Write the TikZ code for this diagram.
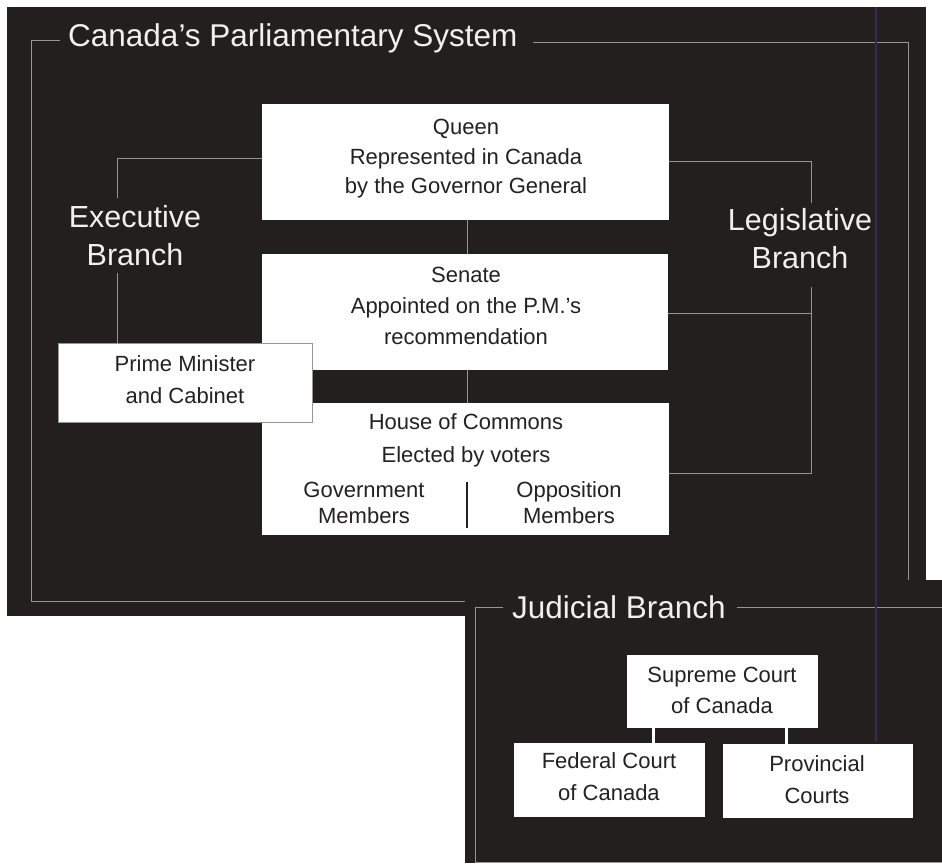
\documentclass[tikz,border=0pt]{standalone}
\usepackage{fontspec}
\setmainfont{Liberation Sans}
\definecolor{panel}{RGB}{34,31,30}
\definecolor{frameline}{RGB}{150,150,148}
\definecolor{lighttxt}{RGB}{240,240,240}
\definecolor{darktxt}{RGB}{35,33,33}
\definecolor{scanline}{RGB}{52,42,82}
\begin{document}
\begin{tikzpicture}[x=1pt,y=-1pt,
  frame/.style={draw=frameline, line width=0.9pt},
  conn/.style={draw=frameline, line width=0.9pt},
  wbox/.style={rectangle, fill=white, draw=none, inner sep=0pt},
  pmbox/.style={rectangle, fill=white, draw=frameline, line width=0.8pt, inner sep=0pt},
  boxtxt/.style={anchor=base, inner sep=0pt, text=darktxt, font=\fontsize{22}{26}\selectfont},
  bigtxt/.style={anchor=base, inner sep=0pt, text=lighttxt, font=\fontsize{30.5}{36}\selectfont},
  titletxt/.style={anchor=base west, inner sep=0pt, text=lighttxt, font=\fontsize{31.5}{36}\selectfont}
]
\useasboundingbox (0,0) rectangle (942,863);
\fill[white] (0,0) rectangle (942,863);

% main panel
\fill[panel] (7,7) rectangle (926,616);
\node[titletxt] (title) at (68,46) {Canada’s Parliamentary System};
\coordinate (fTL1) at (60,40);
\coordinate (fTL) at (31,40);
\coordinate (fBL) at (31,601);
\coordinate (fBR0) at (465,601);
\coordinate (fTR1) at (533,42);
\coordinate (fTR) at (908,42);
\coordinate (fBR) at (908,580);
\draw[frame] (fTL1) -- (fTL) -- (fBL) -- (fBR0);
\draw[frame] (fTR1) -- (fTR) -- (fBR);

% judicial panel
\fill[panel] (465,580) rectangle (942,863);
\node[titletxt] (jtitle) at (512,618) {Judicial Branch};
\coordinate (jL1) at (503,607);
\coordinate (jTL) at (475,607);
\coordinate (jBL) at (475,862);
\coordinate (jBR) at (942,862);
\coordinate (jR1) at (737,607);
\coordinate (jTR) at (942,607);
\draw[frame] (jL1) -- (jTL) -- (jBL) -- (jBR);
\draw[frame] (jR1) -- (jTR);

% scan line
\coordinate (sc1) at (876,7);
\coordinate (sc2) at (876,742);
\draw[scanline, line width=1.3pt] (sc1) -- (sc2);

% boxes (empty shapes)
\coordinate (cx) at (467,0);
\node[wbox, minimum width=407pt, minimum height=116pt] (queen) at (465.5,162) {};
\node[wbox, minimum width=406pt, minimum height=116pt] (senate) at (465,312) {};
\node[wbox, minimum width=407pt, minimum height=132pt] (house) at (465.5,469) {};

% center line
\draw[conn] (queen.south -| cx) -- (senate.north -| cx);
\draw[conn] (senate.south -| cx) -- (house.north -| cx);

% executive bracket
\coordinate (ey1) at (0,158);
\coordinate (exTop) at (117,198);
\coordinate (exBot) at (117,273);
\node[pmbox, minimum width=254pt, minimum height=79pt] (pm) at (185,382.5) {};
\draw[conn] (queen.west |- ey1) -| (exTop);
\draw[conn] (exBot) -- (pm.north -| exBot);

% legislative bracket
\coordinate (ly1) at (0,161);
\coordinate (ly2) at (0,313);
\coordinate (ly3) at (0,473);
\coordinate (lgTop) at (811,203);
\coordinate (lgBot) at (811,287);
\draw[conn] (queen.east |- ly1) -| (lgTop);
\draw[conn] (lgBot) |- (house.east |- ly3);
\draw[conn] (senate.east |- ly2) -- (lgBot |- ly2);

% branch labels
\node[bigtxt] (ex1) at (135,227) {Executive};
\node[bigtxt] (ex2) at (135,265) {Branch};
\node[bigtxt] (lg1) at (800,230) {Legislative};
\node[bigtxt] (lg2) at (800,268) {Branch};

% box texts
\node[boxtxt] (q1) at (466,134) {Queen};
\node[boxtxt] (q2) at (466,164) {Represented in Canada};
\node[boxtxt] (q3) at (466,193) {by the Governor General};

\node[boxtxt] (s1) at (466,282) {Senate};
\node[boxtxt] (s2) at (466,313) {Appointed on the P.M.’s};
\node[boxtxt] (s3) at (466,344) {recommendation};

\node[boxtxt] (h1) at (466,429) {House of Commons};
\node[boxtxt] (h2) at (466,462) {Elected by voters};
\node[boxtxt] (h3) at (364,497) {Government};
\node[boxtxt] (h4) at (364,523) {Members};
\node[boxtxt] (h5) at (569,497) {Opposition};
\node[boxtxt] (h6) at (569,523) {Members};
\coordinate (dv1) at (467,482);
\coordinate (dv2) at (467,528);
\draw[darktxt, line width=2.4pt] (dv1) -- (dv2);

\node[boxtxt] (p1) at (185,371) {Prime Minister};
\node[boxtxt] (p2) at (185,403) {and Cabinet};

% judicial boxes
\node[wbox, minimum width=191pt, minimum height=73pt] (supreme) at (722.5,691.5) {};
\node[wbox, minimum width=191pt, minimum height=74pt] (federal) at (609.5,780) {};
\node[wbox, minimum width=190pt, minimum height=74pt] (prov) at (818,781) {};
\coordinate (jx1) at (653,0);
\coordinate (jx2) at (786,0);
\draw[white, line width=3pt] (supreme.south -| jx1) -- (federal.north -| jx1);
\draw[white, line width=3pt] (supreme.south -| jx2) -- (prov.north -| jx2);

\node[boxtxt] (sc1t) at (722,682) {Supreme Court};
\node[boxtxt] (sc2t) at (722,713) {of Canada};
\node[boxtxt] (f1) at (609,768) {Federal Court};
\node[boxtxt] (f2) at (609,800) {of Canada};
\node[boxtxt] (pr1) at (817,771) {Provincial};
\node[boxtxt] (pr2) at (817,803) {Courts};
\end{tikzpicture}
\end{document}
